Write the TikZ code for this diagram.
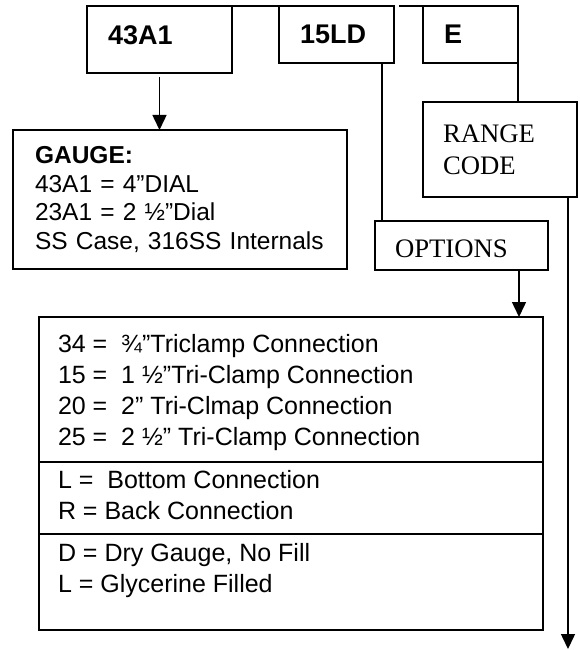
\documentclass[tikz,border=0pt]{standalone}
\usepackage{fontspec}
\setmainfont{Liberation Sans}
\newfontfamily\tnr{Liberation Serif}
\usetikzlibrary{arrows.meta,calc}
\begin{document}
\begin{tikzpicture}[x=1pt,y=-1pt,line width=1.5pt,every node/.style={outer sep=0pt},
codebox/.style={draw,anchor=north west,align=left,inner xsep=21pt,font=\fontsize{27}{32}\selectfont\bfseries},
notebox/.style={draw,anchor=north west,align=left,inner xsep=22pt,font=\fontsize{24.5}{28.7}\selectfont},
wordbox/.style={draw,anchor=north west,align=left,inner xsep=20pt,font=\tnr\fontsize{26.7}{31.7}\selectfont},
lbl/.style={anchor=base west,align=left,inner sep=0pt,font=\fontsize{25}{30.7}\selectfont},
arr/.style={-{Triangle[length=15pt,width=14pt]}}]
\useasboundingbox(0,0)rectangle(580,650);
% code row
\node[codebox,text width=103pt,minimum height=67pt,text depth=9pt](gc)at(87,6){43A1};
\node[codebox,text width=73pt,minimum height=57pt](oc)at(279,6){15LD};
\node[codebox,text width=53pt,minimum height=57pt](rc)at(423,6){E};
\draw(gc.north east)--(oc.north west);
\coordinate(gp)at(399,6);\draw(gp)--(rc.north west);
% gauge
\node[notebox,text width=290pt,minimum height=139pt](gg)at(13,130){\textbf{GAUGE:}\\43A1 = 4”DIAL\\23A1 = 2 ½”Dial\\SS Case, 316SS Internals};
\draw[arr]($(gc.south)+(0,4)$)--(gc.south|-gg.north);
% range and options
\node[wordbox,text width=114pt,minimum height=95pt](rg)at(423,102){RANGE\\CODE};
\node[wordbox,text width=133pt,minimum height=49pt,text height=24.4pt,text depth=0pt](op)at(375,221){OPTIONS};
\draw(rc.south east)--(rc.south east|-rg.north);
\coordinate(a1)at($(oc.south east)+(-12,0)$);\draw(a1)--(a1|-op.north);
% option list
\node[draw,anchor=north west,minimum width=504pt,minimum height=313pt,inner sep=0pt](ol)at(39,317){};
\coordinate(s1)at(0,462);\coordinate(s2)at(0,534);
\draw(ol.west|-s1)--(ol.east|-s1);\draw(ol.west|-s2)--(ol.east|-s2);
\node[lbl](t1)at(58,445){34 =\ \ ¾”Triclamp Connection\\15 =\ \ 1 ½”Tri-Clamp Connection\\20 =\ \ 2” Tri-Clmap Connection\\25 =\ \ 2 ½” Tri-Clamp Connection};
\node[lbl](t2)at(58,519){L =\ \ Bottom Connection\\R = Back Connection};
\node[lbl](t3)at(58,592){D = Dry Gauge, No Fill\\L = Glycerine Filled};
\coordinate(a2)at($(op.south east)+(-29,0)$);\draw[arr](a2)--(a2|-ol.north);
\coordinate(a3)at($(rg.south east)+(-9,0)$);\coordinate(bt)at(568,649);\draw[arr](a3)--(a3|-bt);
\end{tikzpicture}
\end{document}
